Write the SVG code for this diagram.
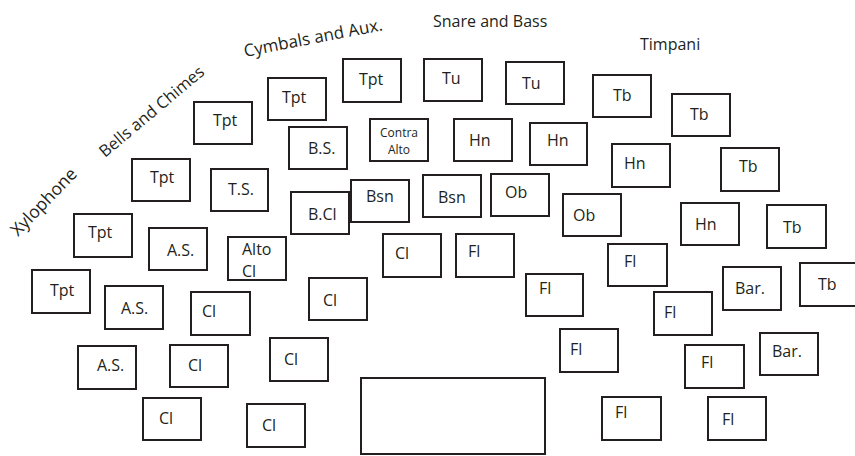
<svg xmlns="http://www.w3.org/2000/svg" width="855" height="456" viewBox="0 0 855 456">
<style>
.box{fill:#fff;stroke:#231f20;stroke-width:2}
.lbl{font-family:"Open Sans","Noto Sans","Liberation Sans",sans-serif;font-size:16px;fill:#231f20}
.sm{font-size:12px;text-anchor:middle}
.sec{font-family:"Open Sans","Noto Sans","Liberation Sans",sans-serif;font-size:16px;fill:#231f20}
</style>
<rect width="855" height="456" fill="#fff"/>
<g id="labels">
<text class="sec" style="font-size:17.5px" transform="translate(18,237) rotate(-46)">Xylophone</text>
<text class="sec" style="font-size:16.5px" transform="translate(105,158) rotate(-40)">Bells and Chimes</text>
<text class="sec" style="font-size:17px" transform="translate(245,57) rotate(-11)">Cymbals and Aux.</text>
<text class="sec" x="433" y="27">Snare and Bass</text>
<text class="sec" x="640" y="50">Timpani</text>
</g>
<g id="connectors"></g>
<g id="n1"><rect class="box" x="194" y="102" width="58" height="42"/><text class="lbl" x="213" y="126">Tpt</text></g>
<g id="n2"><rect class="box" x="132" y="159" width="58" height="42"/><text class="lbl" x="150" y="183">Tpt</text></g>
<g id="n3"><rect class="box" x="211" y="169" width="57" height="42"/><text class="lbl" x="228" y="195">T.S.</text></g>
<g id="n4"><rect class="box" x="268" y="78" width="58" height="42"/><text class="lbl" x="282" y="103">Tpt</text></g>
<g id="n5"><rect class="box" x="343" y="59" width="58" height="43"/><text class="lbl" x="359" y="85">Tpt</text></g>
<g id="n6"><rect class="box" x="424" y="59" width="58" height="42"/><text class="lbl" x="442" y="84">Tu</text></g>
<g id="n7"><rect class="box" x="506" y="62" width="58" height="42"/><text class="lbl" x="522" y="89">Tu</text></g>
<g id="n8"><rect class="box" x="289" y="127" width="58" height="42"/><text class="lbl" x="308" y="154">B.S.</text></g>
<g id="n9"><rect class="box" x="370" y="119" width="58" height="42"/><text class="lbl sm" x="399" y="137">Contra</text><text class="lbl sm" x="399" y="154">Alto</text></g>
<g id="n10"><rect class="box" x="454" y="119" width="58" height="42"/><text class="lbl" x="469" y="146">Hn</text></g>
<g id="n11"><rect class="box" x="530" y="123" width="57" height="42"/><text class="lbl" x="547" y="146">Hn</text></g>
<g id="n12"><rect class="box" x="291" y="192" width="58" height="42"/><text class="lbl" x="308" y="220">B.Cl</text></g>
<g id="n13"><rect class="box" x="351" y="180" width="58" height="42"/><text class="lbl" x="366" y="202">Bsn</text></g>
<g id="n14"><rect class="box" x="423" y="175" width="58" height="42"/><text class="lbl" x="438" y="203">Bsn</text></g>
<g id="n15"><rect class="box" x="491" y="174" width="58" height="42"/><text class="lbl" x="505" y="198">Ob</text></g>
<g id="n16"><rect class="box" x="563" y="194" width="58" height="42"/><text class="lbl" x="573" y="221">Ob</text></g>
<g id="n17"><rect class="box" x="593" y="75" width="58" height="42"/><text class="lbl" x="613" y="101">Tb</text></g>
<g id="n18"><rect class="box" x="672" y="94" width="58" height="42"/><text class="lbl" x="690" y="120">Tb</text></g>
<g id="n19"><rect class="box" x="612" y="144" width="58" height="43"/><text class="lbl" x="624" y="169">Hn</text></g>
<g id="n20"><rect class="box" x="721" y="148" width="58" height="43"/><text class="lbl" x="739" y="172">Tb</text></g>
<g id="n21"><rect class="box" x="681" y="203" width="58" height="42"/><text class="lbl" x="695" y="230">Hn</text></g>
<g id="n22"><rect class="box" x="767" y="205" width="59" height="43"/><text class="lbl" x="783" y="233">Tb</text></g>
<g id="n23"><rect class="box" x="74" y="214" width="58" height="43"/><text class="lbl" x="88" y="238">Tpt</text></g>
<g id="n24"><rect class="box" x="149" y="228" width="58" height="42"/><text class="lbl" x="167" y="256">A.S.</text></g>
<g id="n25"><rect class="box" x="228" y="237" width="58" height="43"/><text class="lbl" x="242" y="255">Alto</text><text class="lbl" x="242" y="277">Cl</text></g>
<g id="n26"><rect class="box" x="32" y="270" width="58" height="43"/><text class="lbl" x="50" y="296">Tpt</text></g>
<g id="n27"><rect class="box" x="105" y="286" width="58" height="43"/><text class="lbl" x="121" y="314">A.S.</text></g>
<g id="n28"><rect class="box" x="191" y="292" width="59" height="43"/><text class="lbl" x="202" y="317">Cl</text></g>
<g id="n29"><rect class="box" x="78" y="346" width="58" height="43"/><text class="lbl" x="97" y="371">A.S.</text></g>
<g id="n30"><rect class="box" x="170" y="345" width="58" height="42"/><text class="lbl" x="188" y="371">Cl</text></g>
<g id="n31"><rect class="box" x="270" y="338" width="58" height="43"/><text class="lbl" x="284" y="365">Cl</text></g>
<g id="n32"><rect class="box" x="143" y="398" width="58" height="42"/><text class="lbl" x="159" y="424">Cl</text></g>
<g id="n33"><rect class="box" x="247" y="404" width="58" height="43"/><text class="lbl" x="262" y="431">Cl</text></g>
<g id="n34"><rect class="box" x="383" y="234" width="58" height="43"/><text class="lbl" x="395" y="259">Cl</text></g>
<g id="n35"><rect class="box" x="456" y="234" width="58" height="43"/><text class="lbl" x="468" y="257">Fl</text></g>
<g id="n36"><rect class="box" x="309" y="278" width="58" height="42"/><text class="lbl" x="323" y="306">Cl</text></g>
<g id="n37"><rect class="box" x="526" y="274" width="57" height="42"/><text class="lbl" x="539" y="294">Fl</text></g>
<g id="n38"><rect class="box" x="608" y="244" width="59" height="42"/><text class="lbl" x="624" y="267">Fl</text></g>
<g id="n39"><rect class="box" x="723" y="267" width="58" height="43"/><text class="lbl" x="735" y="294">Bar.</text></g>
<g id="n40"><rect class="box" x="800" y="263" width="58" height="43"/><text class="lbl" x="818" y="290">Tb</text></g>
<g id="n41"><rect class="box" x="654" y="292" width="58" height="43"/><text class="lbl" x="664" y="318">Fl</text></g>
<g id="n42"><rect class="box" x="560" y="329" width="58" height="43"/><text class="lbl" x="570" y="355">Fl</text></g>
<g id="n43"><rect class="box" x="685" y="345" width="59" height="43"/><text class="lbl" x="701" y="368">Fl</text></g>
<g id="n44"><rect class="box" x="760" y="333" width="58" height="42"/><text class="lbl" x="772" y="357">Bar.</text></g>
<g id="n45"><rect class="box" x="602" y="397" width="59" height="43"/><text class="lbl" x="615" y="418">Fl</text></g>
<g id="n46"><rect class="box" x="708" y="397" width="58" height="43"/><text class="lbl" x="722" y="425">Fl</text></g>
<g id="n47"><rect class="box" x="361" y="378" width="184" height="76"/></g>
</svg>
